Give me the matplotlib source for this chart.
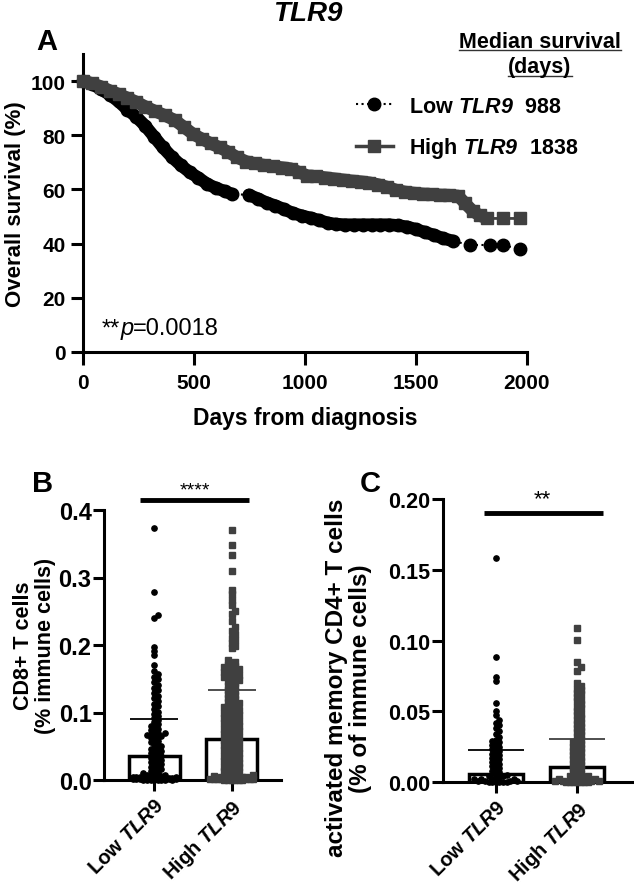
import numpy as np
import matplotlib
matplotlib.use("Agg")
import matplotlib.pyplot as plt
from matplotlib.lines import Line2D
from matplotlib.offsetbox import TextArea, HPacker, AnnotationBbox

# ---------------- data ----------------
gene = "TLR9"
groups = ["Low", "High"]

# A: Kaplan-Meier, overall survival (%)
low_days = [0, 40, 80, 120, 160, 200, 240, 280, 320, 360, 400, 440, 480, 520, 560, 600, 640, 671,
            747, 790, 830, 867, 905, 945, 985, 1025, 1065, 1105, 1140, 1180, 1220, 1260, 1300, 1340,
            1380, 1420, 1460, 1500, 1540, 1580, 1620, 1665, 1742, 1833, 1891, 1968]
low_surv = [100, 99, 97, 95, 92.5, 89.5, 86.8, 83.5, 79.5, 75.5, 72, 69, 66.4, 64.3, 62, 60.5, 59.3, 58.3,
            58, 56.5, 55, 54, 52.7, 51.3, 50.3, 49.5, 48.6, 47.6, 47.2, 47, 47, 47, 47, 47,
            47, 46.7, 46.2, 45.3, 44.2, 43.2, 42, 41, 39.5, 39.5, 39.5, 38]
high_days = [0, 40, 80, 120, 160, 200, 240, 280, 325, 370, 415, 455, 495, 535, 575, 615, 655, 695, 735,
             775, 815, 855, 895, 935, 975, 1010, 1050, 1090, 1130, 1170, 1210, 1250, 1290, 1330, 1370,
             1410, 1450, 1490, 1530, 1570, 1610, 1650, 1690, 1720, 1756, 1787, 1820, 1891, 1968]
high_surv = [100, 99.2, 98, 96.5, 95.2, 93.8, 92.3, 90.6, 88.9, 87.3, 85.5, 83, 80.5, 78.7, 77, 75.5, 73.8,
             71.8, 70.3, 69.6, 69, 68.5, 68.1, 67.7, 66.3, 65.1, 64.8, 64.4, 64, 63.6, 63.2, 62.9, 62.5,
             61.8, 60.9, 59.8, 59.1, 58.7, 58.4, 58.2, 58, 57.9, 57.6, 55, 52, 50.4, 49.3, 49.3, 49.3]
median_days = [988, 1838]
p_value = "0.0018"

# B: CD8+ T cells (% immune cells)
cd8_low = [0.374, 0.278, 0.245, 0.240, 0.197, 0.191, 0.185, 0.170, 0.161, 0.157, 0.153, 0.149, 0.145,
           0.141, 0.137, 0.133, 0.129, 0.125, 0.121, 0.117, 0.113, 0.109, 0.105, 0.101, 0.098, 0.095,
           0.092, 0.089, 0.086, 0.083, 0.080, 0.078, 0.076, 0.074, 0.072, 0.070, 0.069, 0.068, 0.067,
           0.066, 0.065, 0.064, 0.062, 0.060, 0.058, 0.056, 0.054, 0.052, 0.050, 0.048, 0.046, 0.045,
           0.043, 0.041, 0.040, 0.038, 0.036, 0.035, 0.033, 0.031, 0.030, 0.028, 0.026, 0.025, 0.023,
           0.021, 0.020, 0.018, 0.016, 0.015, 0.013, 0.011, 0.010, 0.009, 0.008, 0.007, 0.006, 0.006,
           0.005, 0.005, 0.004, 0.004, 0.004, 0.003, 0.003, 0.003, 0.003, 0.002, 0.002, 0.002, 0.002,
           0.002, 0.001, 0.001, 0.001, 0.001, 0.001, 0.001, 0.000, 0.000, 0.000, 0.000, 0.000, 0.000,
           0.000, 0.000]
cd8_high = [0.371, 0.348, 0.333, 0.310, 0.282, 0.276, 0.266, 0.259, 0.251, 0.246, 0.236, 0.226, 0.221,
            0.216, 0.211, 0.207, 0.203, 0.199, 0.195, 0.178, 0.175, 0.173, 0.171, 0.169, 0.167, 0.165,
            0.163, 0.161, 0.159, 0.157, 0.155, 0.153, 0.151, 0.149, 0.146, 0.143, 0.140, 0.137, 0.134,
            0.131, 0.128, 0.125, 0.122, 0.119, 0.116, 0.113, 0.111, 0.109, 0.107, 0.105, 0.103, 0.101,
            0.099, 0.097, 0.095, 0.093, 0.091, 0.089, 0.087, 0.085, 0.083, 0.081, 0.079, 0.077, 0.075,
            0.073, 0.071, 0.069, 0.067, 0.065, 0.063, 0.061, 0.059, 0.057, 0.055, 0.053, 0.051, 0.049,
            0.047, 0.045, 0.043, 0.041, 0.039, 0.037, 0.035, 0.033, 0.031, 0.029, 0.027, 0.025, 0.023,
            0.021, 0.019, 0.017, 0.015, 0.013, 0.011, 0.009, 0.008, 0.007, 0.006, 0.005, 0.005, 0.004,
            0.004, 0.003, 0.003, 0.003, 0.002, 0.002, 0.002, 0.002, 0.001, 0.001, 0.001, 0.001, 0.000,
            0.000, 0.000, 0.000, 0.000, 0.000,
            0.168, 0.164, 0.160, 0.156, 0.152, 0.148, 0.144, 0.138, 0.132, 0.126, 0.120, 0.114, 0.108,
            0.104, 0.100, 0.096, 0.092, 0.088, 0.084, 0.080, 0.076, 0.072, 0.068, 0.064, 0.060, 0.056,
            0.052, 0.048, 0.044, 0.040, 0.036, 0.032, 0.028, 0.024, 0.020, 0.016, 0.012]
cd8_mean = [0.035, 0.061]
cd8_sd = [0.056, 0.072]

# C: activated memory CD4+ T cells (% of immune cells)
cd4_low = [0.158, 0.088, 0.0745, 0.0715, 0.056, 0.050, 0.047, 0.044, 0.042, 0.040, 0.038, 0.036, 0.034,
           0.032, 0.030, 0.029, 0.028, 0.027, 0.026, 0.025, 0.024, 0.023, 0.022, 0.021, 0.020, 0.019,
           0.018, 0.017, 0.016, 0.015, 0.014, 0.013, 0.012, 0.011, 0.010, 0.009, 0.008, 0.007, 0.006,
           0.005, 0.004, 0.004, 0.003, 0.003, 0.003, 0.002, 0.002, 0.002, 0.001, 0.001, 0.001, 0.001,
           0.000, 0.000, 0.000, 0.000, 0.000, 0.000]
cd4_high = [0.109, 0.1005, 0.0845, 0.081, 0.0785, 0.070, 0.068, 0.066, 0.065, 0.063, 0.062, 0.060, 0.058,
            0.057, 0.055, 0.053, 0.052, 0.050, 0.048, 0.047, 0.045, 0.044, 0.042, 0.041, 0.039, 0.038,
            0.036, 0.035, 0.033, 0.032, 0.030, 0.029, 0.028, 0.027, 0.026, 0.025, 0.024, 0.023, 0.022,
            0.021, 0.020, 0.019, 0.018, 0.017, 0.016, 0.015, 0.014, 0.013, 0.012, 0.011, 0.010, 0.009,
            0.008, 0.007, 0.006, 0.005, 0.004, 0.004, 0.003, 0.003, 0.003, 0.002, 0.002, 0.002, 0.001,
            0.001, 0.001, 0.001, 0.000, 0.000, 0.000, 0.000, 0.000, 0.000, 0.000]
cd4_mean = [0.0055, 0.0105]
cd4_sd = [0.0171, 0.0197]

# ---------------- style ----------------
BLACK = "#000000"
GREY = "#404040"
W, H = 634, 887

plt.rcParams.update({
    "font.family": ["Liberation Sans", "DejaVu Sans"],
    "font.weight": "bold",
    "axes.labelweight": "bold",
    "axes.linewidth": 2.2,
    "xtick.major.width": 2.2,
    "ytick.major.width": 2.2,
    "mathtext.fontset": "custom",
    "mathtext.rm": "Liberation Sans",
    "mathtext.it": "Liberation Sans:italic",
    "mathtext.bf": "Liberation Sans:bold",
    "mathtext.bfit": "Liberation Sans:italic:bold",
})


def fig_rect(left, top, right, bottom):
    # pixel box -> figure fraction
    return [left / W, 1 - bottom / H, (right - left) / W, (bottom - top) / H]


def swarm_x(ax, values, xpos, gap_px, max_half):
    # GraphPad-like scatter: each point goes to the free slot nearest the centre
    trans = ax.transData
    ys = trans.transform(np.column_stack([np.full(len(values), xpos), values]))[:, 1]
    px_per_unit = trans.transform((xpos + 1, 0))[0] - trans.transform((xpos, 0))[0]
    nmax = int(max_half * px_per_unit / gap_px)
    cands = [0.0]
    for k in range(1, nmax + 1):
        cands += [k * gap_px, -k * gap_px]
    placed = []
    xs = np.zeros(len(values))
    for i in np.argsort(values):
        best_c, best_d = 0.0, -1.0
        for c in cands:
            d = min([np.hypot(c - px, ys[i] - py) for px, py in placed], default=1e9)
            if d >= gap_px:
                best_c = c
                break
            if d > best_d:
                best_d, best_c = d, c
        placed.append((best_c, ys[i]))
        xs[i] = xpos + best_c / px_per_unit
    return xs


def style_axes(ax, ticklen, labelsize):
    for s in ["top", "right"]:
        ax.spines[s].set_visible(False)
    ax.tick_params(length=ticklen, labelsize=labelsize)


fig = plt.figure(figsize=(W / 100, H / 100), dpi=100)

# ---------------- A ----------------
ax_a = fig.add_axes(fig_rect(83, 55, 527, 353))
ax_a.set_xlim(0, 2000)
ax_a.set_ylim(0, 110)


def km(ax, days, surv, color, ls, lw, marker):
    days = np.asarray(days)
    surv = np.asarray(surv)
    # thick band where the event markers overlap
    breaks = np.where(np.diff(days) > 50)[0] + 1
    for seg in np.split(np.arange(len(days)), breaks):
        if len(seg) > 1:
            ax.plot(days[seg], surv[seg], color=color, lw=9, solid_capstyle="round", clip_on=False, zorder=3)
    return ax.plot(days, surv, color=color, ls=ls, lw=lw, marker=marker, ms=9, clip_on=False, zorder=4)[0]


km(ax_a, low_days, low_surv, BLACK, ":", 1.5, "o")
km(ax_a, high_days, high_surv, GREY, "-", 2.0, "s")
ax_a.set_xticks(range(0, 2001, 500))
ax_a.set_yticks(range(0, 101, 20))
style_axes(ax_a, 9, 15)
ax_a.tick_params(axis="x", pad=6)
ax_a.set_xlabel("Days from diagnosis", fontsize=16.5, labelpad=10)
ax_a.set_ylabel("Overall survival (%)", fontsize=16)
ax_a.yaxis.set_label_coords(-0.128, 0.5)

h_low = Line2D([], [], color=BLACK, ls=":", lw=1.5, marker="o", ms=9)
h_high = Line2D([], [], color=GREY, ls="-", lw=2.5, marker="s", ms=9)
labels = [rf"$\mathbf{{{g}}}\ \mathbfit{{{gene}}}\ \ \mathbf{{{m}}}$" for g, m in zip(groups, median_days)]
ax_a.legend([h_low, h_high], labels, loc="upper left", bbox_to_anchor=(356 / W, 1 - 97 / H),
            bbox_transform=fig.transFigure, frameon=False, fontsize=15.5, handlelength=1.7,
            handletextpad=0.75, labelspacing=0.85, borderpad=0, borderaxespad=0, numpoints=1)

t1 = fig.text(540 / W, 1 - 42 / H, "Median survival", ha="center", va="center", fontsize=15.5)
t2 = fig.text(540 / W, 1 - 68 / H, "(days)", ha="center", va="center", fontsize=15.5)

ptxt = HPacker(children=[TextArea("**", textprops=dict(fontsize=17, fontweight="normal")),
                         TextArea("p", textprops=dict(fontsize=17, fontweight="normal", style="italic")),
                         TextArea("=" + p_value, textprops=dict(fontsize=17, fontweight="normal"))],
               sep=0, pad=0)
fig.add_artist(AnnotationBbox(ptxt, (102 / W, 1 - 329 / H), xycoords="figure fraction",
                              box_alignment=(0, 0.5), frameon=False, pad=0))

fig.text(308 / W, 1 - 14 / H, gene, ha="center", va="center", fontsize=20, style="italic")
fig.text(47 / W, 1 - 42 / H, "A", ha="center", va="center", fontsize=21)


# ---------------- B and C ----------------
def bar_panel(ax, lows, highs, means, sds, ymax, yticks, fmt, capsize, right):
    ax.set_xlim(-0.65, right)
    ax.set_ylim(0, ymax)
    ax.bar([0, 1], means, width=0.66, color="white", edgecolor=BLACK, lw=2.5, zorder=2)
    for x, vals, col, mk in [(0, lows, BLACK, "o"), (1, highs, GREY, "s")]:
        xs = swarm_x(ax, vals, x, 3.6, 0.31)
        ax.plot(xs, vals, ls="none", marker=mk, ms=3.8, color=col, mec=col, clip_on=False, zorder=3)
        ax.errorbar([x], [means[x]], yerr=[sds[x]], fmt="none", ecolor=col, elinewidth=1.3,
                    capsize=capsize, capthick=1.3, zorder=4)
    ax.set_yticks(yticks)
    ax.set_yticklabels([fmt.format(v) for v in yticks])
    ax.set_xticks([0, 1])
    ax.set_xticklabels([rf"$\mathbf{{{g}}}\ \mathit{{{gene}}}$" for g in groups],
                       rotation=45, ha="right", rotation_mode="anchor")


ax_b = fig.add_axes(fig_rect(104, 511, 281, 781))
bar_panel(ax_b, cd8_low, cd8_high, cd8_mean, cd8_sd, 0.4, [0.0, 0.1, 0.2, 0.3, 0.4], "{:.1f}", 17, 1.64)
style_axes(ax_b, 8, 17)
ax_b.tick_params(axis="x", labelsize=14.5, pad=3)
ax_b.tick_params(axis="y", pad=1)
ax_b.set_ylabel("CD8+ T cells\n(% immune cells)", fontsize=15.5, linespacing=1.1)
ax_b.yaxis.set_label_coords(-0.27, 0.5)
ax_b.plot([-0.19, 1.23], [0.415, 0.415], color=BLACK, lw=3.5, clip_on=False, solid_capstyle="butt")
ax_b.text(0.52, 0.417, "****", ha="center", va="bottom", fontsize=14, fontweight="normal")
fig.text(43 / W, 1 - 484 / H, "B", ha="center", va="center", fontsize=21)

ax_c = fig.add_axes(fig_rect(443, 500, 633, 783))
bar_panel(ax_c, cd4_low, cd4_high, cd4_mean, cd4_sd, 0.2, [0.0, 0.05, 0.10, 0.15, 0.20], "{:.2f}", 20, 1.69)
style_axes(ax_c, 8, 15.5)
ax_c.tick_params(axis="x", labelsize=14.5, pad=3)
ax_c.tick_params(axis="y", pad=1)
ax_c.set_ylabel("activated memory CD4+ T cells\n(% of immune cells)", fontsize=17.5, linespacing=1.05)
ax_c.yaxis.set_label_coords(-0.375, 0.37)
ax_c.plot([-0.143, 1.318], [0.19, 0.19], color=BLACK, lw=3.5, clip_on=False, solid_capstyle="butt")
ax_c.text(0.57, 0.1925, "**", ha="center", va="bottom", fontsize=16, fontweight="normal")
fig.text(370 / W, 1 - 484 / H, "C", ha="center", va="center", fontsize=21)

# underline the legend header
fig.canvas.draw()
inv = fig.transFigure.inverted()
for t in (t1, t2):
    bb = t.get_window_extent()
    (x0, y0), (x1, _) = inv.transform([(bb.x0, bb.y0), (bb.x1, bb.y1)])
    fig.add_artist(Line2D([x0, x1], [y0 + 0.002, y0 + 0.002], color="#333333", lw=1.0,
                          transform=fig.transFigure))

fig.savefig("out.png", dpi=100)
